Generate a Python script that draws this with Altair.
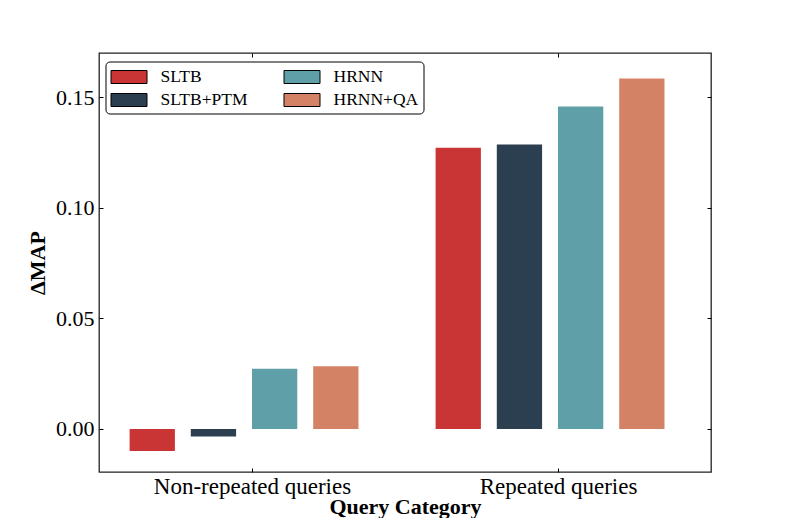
import altair as alt
import pandas as pd

categories = ["Non-repeated queries", "Repeated queries"]
methods = ["SLTB", "SLTB+PTM", "HRNN", "HRNN+QA"]
sltb = [-0.0100, 0.1271]
sltb_ptm = [-0.0035, 0.1286]
hrnn = [0.0272, 0.1458]
hrnn_qa = [0.0283, 0.1585]
series = {"SLTB": sltb, "SLTB+PTM": sltb_ptm, "HRNN": hrnn, "HRNN+QA": hrnn_qa}
colors = {"SLTB": "#c93534", "SLTB+PTM": "#2c3f50", "HRNN": "#5fa0a8", "HRNN+QA": "#d48266"}
y_ticks = [0.0, 0.05, 0.10, 0.15]

bar_step = 0.2
bar_width = 0.148
rows = []
for gi, cat in enumerate(categories):
    for mi, m in enumerate(methods):
        left = gi + (mi - 2) * bar_step
        rows.append(dict(category=cat, method=m, value=series[m][gi],
                         x0=left, x1=left + bar_width, zero=0.0))
df = pd.DataFrame(rows)

FONT = "Liberation Serif"
xscale = alt.Scale(domain=[-0.5, 1.5], nice=False, zero=False)
yscale = alt.Scale(domain=[-0.0195, 0.17], nice=False, zero=False)
label_expr = "datum.value == 0 ? '%s' : '%s'" % (categories[0], categories[1])
x_vals = [0, 1]

bars = alt.Chart(df).mark_bar().encode(
    x=alt.X("x0:Q", scale=xscale, axis=alt.Axis(
        orient="bottom", values=x_vals, labelExpr=label_expr, title="Query Category",
        tickSize=0, domain=False, grid=False, labelFontSize=23, labelColor="black",
        labelLimit=400, labelFont=FONT, titleFont=FONT, titleFontSize=22,
        titleFontWeight="bold", titleColor="black", labelPadding=3, titlePadding=-2)),
    x2="x1:Q",
    y=alt.Y("value:Q", scale=yscale, axis=alt.Axis(
        orient="left", values=y_ticks, format=".2f", title="ΔMAP",
        tickSize=0, domain=False, grid=False, labelFontSize=22, labelColor="black",
        labelFont=FONT, titleFont=FONT, titleFontSize=22, titleFontWeight="bold",
        titleColor="black", labelPadding=5, titlePadding=6)),
    y2="zero:Q",
    color=alt.Color("method:N", scale=alt.Scale(domain=methods,
                                                range=[colors[m] for m in methods]),
                    legend=alt.Legend(
                        title=None, orient="none", legendX=6.5, legendY=8.5, columns=2,
                        symbolType="M-1,-0.65H2.6V0.65H-1Z", symbolSize=400,
                        symbolStrokeColor="black", symbolStrokeWidth=1, symbolOpacity=1,
                        labelFontSize=17.5, labelFont=FONT, labelColor="black",
                        labelOffset=29, columnPadding=33, rowPadding=4, padding=5,
                        strokeColor="black", cornerRadius=4, fillColor="white")),
)

def tick_layer(xo, yo):
    return alt.Chart(df).mark_bar(opacity=0).encode(
        x=alt.X("x0:Q", scale=xscale, axis=alt.Axis(
            orient=xo, offset=-4, tickSize=4, labels=False, domain=False, grid=False,
            title=None, values=x_vals, tickColor="black")),
        x2="x1:Q",
        y=alt.Y("value:Q", scale=yscale, axis=alt.Axis(
            orient=yo, offset=-4, tickSize=4, labels=False, domain=False, grid=False,
            title=None, values=y_ticks, tickColor="black")),
        y2="zero:Q",
    )

chart = alt.layer(bars, tick_layer("bottom", "left"), tick_layer("top", "right")).resolve_axis(
    x="independent", y="independent"
).properties(
    width=612, height=419,
    autosize=alt.AutoSizeParams(type="none"),
    padding={"left": 91, "top": 45, "right": 70, "bottom": 46},
).configure(font=FONT).configure_view(stroke="#222", strokeWidth=1.3)

chart.save("out.html", embed_options={"renderer": "svg", "actions": False})
